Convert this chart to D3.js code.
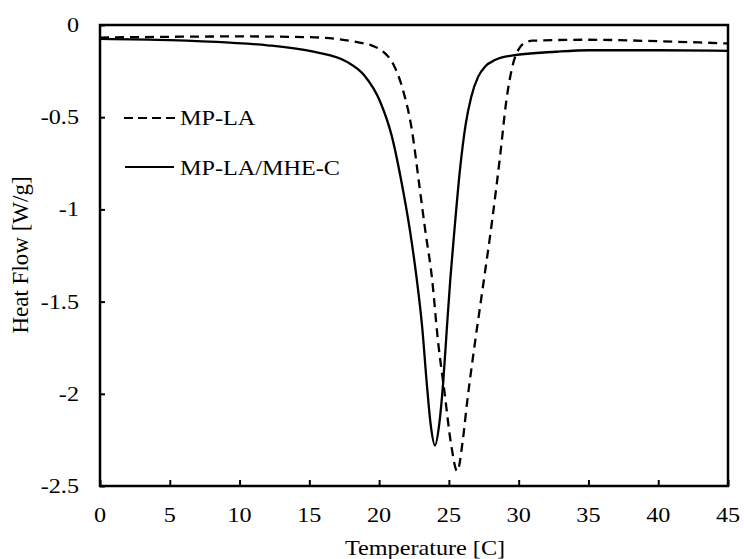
<!DOCTYPE html>
<html>
<head>
<meta charset="utf-8">
<script src="https://cdn.jsdelivr.net/npm/d3@7"></script>
<style>
  html, body { margin: 0; padding: 0; background: #fff; }
  svg { display: block; }
  text { font-family: "Liberation Serif", "Times New Roman", serif; fill: #000; }
</style>
</head>
<body>
<svg id="chart" width="744" height="559"></svg>
<script>
// ---- data ----
const xTicks = [0, 5, 10, 15, 20, 25, 30, 35, 40, 45];
const yTicks = [0, -0.5, -1, -1.5, -2, -2.5];
const yTickLabels = ["0", "-0.5", "-1", "-1.5", "-2", "-2.5"];
const xTitle = "Temperature [C]";
const yTitle = "Heat Flow [W/g]";
const seriesNames = ["MP-LA", "MP-LA/MHE-C"];

const mpLA_T = [0, 5, 10, 15, 17.2, 18.6, 19.6, 20.3, 21.0, 21.7, 22.35, 22.9, 23.3, 23.8, 24.2, 24.7, 25.15, 25.6, 26.0, 26.3, 26.8, 27.4, 28.1, 28.7, 29.1, 29.6, 30.1, 30.5, 31, 35, 40, 45];
const mpLA_Q = [-0.068, -0.064, -0.062, -0.066, -0.078, -0.095, -0.115, -0.145, -0.21, -0.35, -0.57, -0.88, -1.11, -1.38, -1.7, -2.0, -2.27, -2.42, -2.25, -2.05, -1.76, -1.44, -1.06, -0.69, -0.42, -0.21, -0.12, -0.095, -0.085, -0.08, -0.088, -0.1];

const mhe_T = [0, 5, 9.3, 12, 15.3, 17.7, 18.9, 20.1, 20.9, 21.6, 22.2, 22.7, 23.1, 23.4, 23.7, 24.0, 24.3, 24.6, 24.85, 25.1, 25.4, 25.8, 26.2, 26.6, 27.1, 27.6, 28.3, 29.6, 32.7, 35, 40, 45];
const mhe_Q = [-0.075, -0.082, -0.096, -0.11, -0.145, -0.2, -0.27, -0.42, -0.6, -0.85, -1.11, -1.38, -1.65, -1.93, -2.17, -2.28, -2.17, -1.93, -1.65, -1.38, -1.11, -0.78, -0.54, -0.39, -0.28, -0.225, -0.19, -0.165, -0.145, -0.137, -0.137, -0.14];

// ---- layout ----
const svg = d3.select("#chart");
const L = 100, R = 728, T = 25, B = 486;
const FS = 22, SX = 1.1;

const x = d3.scaleLinear().domain([0, 45]).range([L, R]);
const y = d3.scaleLinear().domain([-2.5, 0]).range([B, T]);

// horizontally stretched text helper
function stext(g, tx, ty, str, anchor, size) {
  return g.append("text")
    .attr("transform", `translate(${tx},${ty}) scale(${SX},1)`)
    .attr("text-anchor", anchor)
    .attr("font-size", size)
    .text(str);
}

// axes via d3 axis (ticks inward)
const xAxis = d3.axisBottom(x).tickValues(xTicks).tickSizeInner(-6).tickSizeOuter(0).tickFormat("");
const gx = svg.append("g").attr("transform", `translate(0,${B})`).call(xAxis);
gx.select(".domain").remove();
gx.selectAll(".tick line").attr("stroke", "#000").attr("stroke-width", 2);

const yAxis = d3.axisLeft(y).tickValues(yTicks).tickSizeInner(-5).tickSizeOuter(0).tickFormat("");
const gy = svg.append("g").attr("transform", `translate(${L},0)`).call(yAxis);
gy.select(".domain").remove();
gy.selectAll(".tick line").attr("stroke", "#000").attr("stroke-width", 2);

// tick labels
const labels = svg.append("g");
xTicks.forEach(v => stext(labels, x(v), 522, String(v), "middle", FS));
yTicks.forEach((v, i) => stext(labels, 79, y(v) + 7, yTickLabels[i], "end", FS));

// frame
svg.append("rect")
  .attr("x", L).attr("y", T).attr("width", R - L).attr("height", B - T)
  .attr("fill", "none").attr("stroke", "#000").attr("stroke-width", 2.5);

// lines
const line = d3.line().x(d => x(d[0])).y(d => y(d[1])).curve(d3.curveMonotoneX);
const mpLA = mpLA_T.map((t, i) => [t, mpLA_Q[i]]);
const mhe = mhe_T.map((t, i) => [t, mhe_Q[i]]);

svg.append("path").datum(mhe).attr("d", line)
  .attr("fill", "none").attr("stroke", "#000").attr("stroke-width", 2.3);
svg.append("path").datum(mpLA).attr("d", line)
  .attr("fill", "none").attr("stroke", "#000").attr("stroke-width", 2.3)
  .attr("stroke-dasharray", "9,6");

// legend
const lg = svg.append("g");
lg.append("line").attr("x1", 124).attr("x2", 178).attr("y1", 118).attr("y2", 118)
  .attr("stroke", "#000").attr("stroke-width", 2).attr("stroke-dasharray", "9,5");
stext(lg, 180, 125, seriesNames[0], "start", FS);
lg.append("line").attr("x1", 125).attr("x2", 174).attr("y1", 167).attr("y2", 167)
  .attr("stroke", "#000").attr("stroke-width", 2);
stext(lg, 180, 175, seriesNames[1], "start", FS);

// axis titles
stext(svg, 425, 555, xTitle, "middle", FS);
svg.append("text")
  .attr("transform", `translate(28,255) rotate(-90)`)
  .attr("text-anchor", "middle")
  .attr("font-size", 23)
  .text(yTitle);
</script>
</body>
</html>
